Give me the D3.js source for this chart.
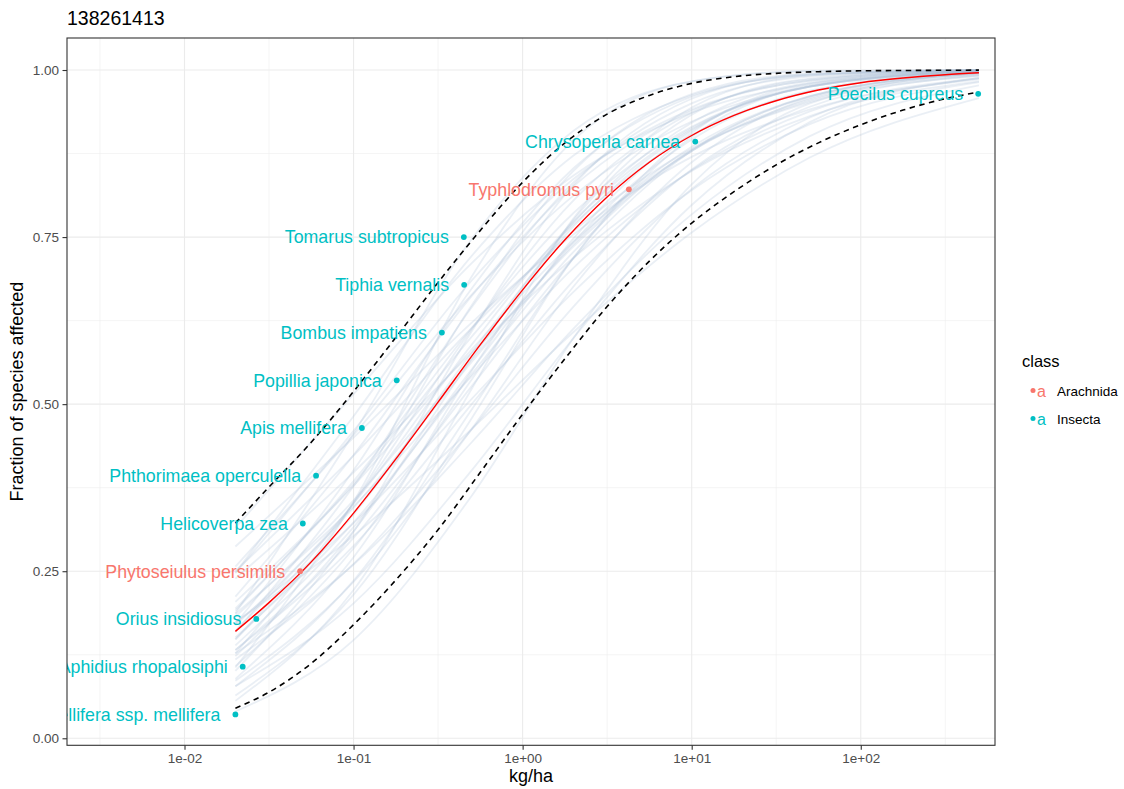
<!DOCTYPE html>
<html>
<head>
<meta charset="utf-8">
<script src="https://cdn.jsdelivr.net/npm/d3@7"></script>
<style>
  body { margin: 0; background: #fff; }
  text { font-family: "Liberation Sans", Arial, sans-serif; }
</style>
</head>
<body>
<div id="chart"></div>
<script>
// --- data ---
const chartTitle = '138261413';

// fitted curve + pointwise CI, sampled at these doses (kg/ha)
const fitDoses = [0.02, 0.0316, 0.0562, 0.1, 0.178, 0.316, 0.562, 1, 1.78, 3.16, 5.62, 10, 17.8, 31.6, 56.2, 100, 178, 316, 500];
const fitValues = [0.160, 0.203, 0.264, 0.337, 0.418, 0.503, 0.589, 0.671, 0.746, 0.810, 0.862, 0.902, 0.932, 0.954, 0.970, 0.981, 0.988, 0.993, 0.9958];
const upperValues = [0.322, 0.376, 0.443, 0.519, 0.600, 0.682, 0.760, 0.832, 0.891, 0.934, 0.962, 0.980, 0.990, 0.995, 0.9975, 0.9988, 0.9993, 0.9996, 0.9998];
const lowerValues = [0.045, 0.069, 0.112, 0.170, 0.237, 0.312, 0.398, 0.485, 0.568, 0.646, 0.714, 0.771, 0.818, 0.858, 0.891, 0.918, 0.940, 0.957, 0.967];

// bootstrap curves (faint), sampled at these doses
const bootDoses = [0.02, 0.1, 0.5, 2, 10, 50, 500];
const bootCurves = [
  [0.148, 0.335, 0.577, 0.766, 0.911, 0.975, 0.9978],
  [0.108, 0.284, 0.537, 0.748, 0.909, 0.977, 0.9984],
  [0.191, 0.385, 0.614, 0.786, 0.915, 0.975, 0.9974],
  [0.132, 0.288, 0.500, 0.685, 0.851, 0.945, 0.992],
  [0.171, 0.401, 0.673, 0.853, 0.960, 0.993, 0.9997],
  [0.101, 0.309, 0.609, 0.828, 0.957, 0.994, 0.9998],
  [0.186, 0.347, 0.542, 0.704, 0.850, 0.938, 0.988],
  [0.257, 0.454, 0.664, 0.812, 0.923, 0.975, 0.9968],
  [0.086, 0.234, 0.463, 0.676, 0.862, 0.958, 0.9958],
  [0.239, 0.398, 0.577, 0.719, 0.849, 0.931, 0.983],
  [0.248, 0.482, 0.722, 0.872, 0.962, 0.992, 0.9995],
  [0.056, 0.222, 0.523, 0.778, 0.944, 0.992, 0.9998],
  [0.127, 0.260, 0.443, 0.613, 0.784, 0.901, 0.977],
  [0.106, 0.354, 0.691, 0.895, 0.983, 0.9987, 0.99999],
  [0.169, 0.345, 0.563, 0.739, 0.885, 0.961, 0.9948],
  [0.315, 0.515, 0.711, 0.842, 0.936, 0.979, 0.9973],
  [0.078, 0.202, 0.401, 0.599, 0.798, 0.922, 0.988],
  [0.064, 0.215, 0.479, 0.719, 0.906, 0.980, 0.999],
  [0.287, 0.450, 0.622, 0.754, 0.870, 0.941, 0.986],
  [0.148, 0.352, 0.612, 0.805, 0.936, 0.986, 0.9992],
  [0.174, 0.303, 0.463, 0.608, 0.757, 0.869, 0.958],
  [0.187, 0.456, 0.747, 0.909, 0.983, 0.998, 0.99999],
  [0.139, 0.316, 0.552, 0.743, 0.896, 0.969, 0.9969],
  [0.040, 0.147, 0.363, 0.599, 0.829, 0.950, 0.996],
  [0.182, 0.356, 0.567, 0.736, 0.879, 0.956, 0.9934],
  [0.132, 0.300, 0.527, 0.718, 0.879, 0.961, 0.9955],
  [0.159, 0.377, 0.645, 0.832, 0.950, 0.990, 0.9995],
  [0.078, 0.236, 0.492, 0.719, 0.900, 0.976, 0.9986],
  [0.204, 0.378, 0.582, 0.743, 0.879, 0.954, 0.9924],
  [0.212, 0.424, 0.662, 0.826, 0.939, 0.984, 0.9988],
  [0.089, 0.271, 0.550, 0.776, 0.933, 0.987, 0.9995],
  [0.194, 0.381, 0.601, 0.769, 0.903, 0.968, 0.996],
  [0.123, 0.310, 0.568, 0.772, 0.921, 0.981, 0.9988],
  [0.173, 0.322, 0.508, 0.668, 0.820, 0.919, 0.982],
  [0.250, 0.423, 0.614, 0.759, 0.882, 0.952, 0.9908],
  [0.161, 0.351, 0.589, 0.773, 0.913, 0.975, 0.9977],
  [0.247, 0.460, 0.685, 0.837, 0.941, 0.984, 0.9986],
  [0.118, 0.261, 0.462, 0.646, 0.822, 0.929, 0.988],
  [0.127, 0.352, 0.648, 0.849, 0.964, 0.9947, 0.9999],
  [0.151, 0.323, 0.545, 0.728, 0.881, 0.960, 0.995]
];

// species points
const speciesNames = ['Apis mellifera ssp. mellifera', 'Aphidius rhopalosiphi', 'Orius insidiosus',
  'Phytoseiulus persimilis', 'Helicoverpa zea', 'Phthorimaea operculella', 'Apis mellifera',
  'Popillia japonica', 'Bombus impatiens', 'Tiphia vernalis', 'Tomarus subtropicus',
  'Typhlodromus pyri', 'Chrysoperla carnea', 'Poecilus cupreus'];
const speciesDoses = [0.020, 0.0221, 0.0266, 0.0483, 0.0501, 0.060, 0.112, 0.180, 0.333, 0.451, 0.449, 4.25, 10.5, 495];
const speciesFractions = [0.0357, 0.1071, 0.1786, 0.2500, 0.3214, 0.3929, 0.4643, 0.5357, 0.6071, 0.6786, 0.7500, 0.8214, 0.8929, 0.9643];
const speciesClasses = ['Insecta', 'Insecta', 'Insecta', 'Arachnida', 'Insecta', 'Insecta', 'Insecta',
  'Insecta', 'Insecta', 'Insecta', 'Insecta', 'Arachnida', 'Insecta', 'Insecta'];

const classNames = ['Arachnida', 'Insecta'];
const classColors = ['#F8766D', '#00BFC4'];

// axes
const xTicks = [0.01, 0.1, 1, 10, 100];
const xTickLabels = ['1e-02', '1e-01', '1e+00', '1e+01', '1e+02'];
const xMinorTicks = [0.00316, 0.0316, 0.316, 3.16, 31.6, 316];
const yTicks = [0, 0.25, 0.5, 0.75, 1];
const yTickLabels = ['0.00', '0.25', '0.50', '0.75', '1.00'];
const yMinorTicks = [0.125, 0.375, 0.625, 0.875];


class SsdPlot {

  constructor(element, width, height) {
    this.element = element;
    this.width = width;
    this.height = height;
    this.margin = {top: 38, right: 129, bottom: 43.7, left: 67};
    this.innerW = width - this.margin.left - this.margin.right;
    this.innerH = height - this.margin.top - this.margin.bottom;

    //Scale
    this.x = d3.scaleLog().domain([Math.pow(10, -2.695), Math.pow(10, 2.794)]).range([0, this.innerW]);
    this.y = d3.scaleLinear().domain([-0.0105, 1.0479]).range([this.innerH, 0]);
    this.color = d3.scaleOrdinal().domain(classNames).range(classColors);

    //Elements
    this.svg = '';
    this.g = '';

    //Binding
    this.render = this.render.bind(this);
  }

  render() {
    var _self = this;
    d3.select(_self.element).selectAll('*').remove();

    _self.svg = d3.select(_self.element).append('svg')
      .attr('width', _self.width).attr('height', _self.height)
      .style('display', 'block');

    _self.svg.append('defs').append('clipPath').attr('id', 'panel-clip')
      .append('rect').attr('width', _self.innerW).attr('height', _self.innerH);

    _self.g = _self.svg.append('g')
      .attr('transform', 'translate(' + _self.margin.left + ',' + _self.margin.top + ')');

    this.drawGrid();
    this.drawCurves();
    this.drawPoints();
    this.drawAxes();
    this.drawLegend();
  }

  drawGrid() {
    var _self = this;
    var grid = _self.g.append('g');

    grid.selectAll('.xminor').data(xMinorTicks).enter().append('line')
      .attr('x1', d => _self.x(d)).attr('x2', d => _self.x(d))
      .attr('y1', 0).attr('y2', _self.innerH)
      .attr('stroke', '#EBEBEB').attr('stroke-width', 0.55);
    grid.selectAll('.yminor').data(yMinorTicks).enter().append('line')
      .attr('x1', 0).attr('x2', _self.innerW)
      .attr('y1', d => _self.y(d)).attr('y2', d => _self.y(d))
      .attr('stroke', '#EBEBEB').attr('stroke-width', 0.55);
    grid.selectAll('.xmajor').data(xTicks).enter().append('line')
      .attr('x1', d => _self.x(d)).attr('x2', d => _self.x(d))
      .attr('y1', 0).attr('y2', _self.innerH)
      .attr('stroke', '#EBEBEB').attr('stroke-width', 1.1);
    grid.selectAll('.ymajor').data(yTicks).enter().append('line')
      .attr('x1', 0).attr('x2', _self.innerW)
      .attr('y1', d => _self.y(d)).attr('y2', d => _self.y(d))
      .attr('stroke', '#EBEBEB').attr('stroke-width', 1.1);
  }

  drawCurves() {
    var _self = this;
    var line = d3.line()
      .x(d => _self.x(d[0]))
      .y(d => _self.y(d[1]))
      .curve(d3.curveMonotoneX);

    var layer = _self.g.append('g').attr('clip-path', 'url(#panel-clip)');

    layer.selectAll('path.boot')
      .data(bootCurves.map(c => d3.zip(bootDoses, c)))
      .enter().append('path')
      .attr('class', 'boot')
      .attr('d', line)
      .attr('fill', 'none')
      .attr('stroke', '#a7bdd6')
      .attr('stroke-opacity', 0.24)
      .attr('stroke-width', 1.8);

    layer.append('path')
      .attr('d', line(d3.zip(fitDoses, upperValues)))
      .attr('fill', 'none').attr('stroke', '#000').attr('stroke-width', 1.6)
      .attr('stroke-dasharray', '5.5,4.5');
    layer.append('path')
      .attr('d', line(d3.zip(fitDoses, lowerValues)))
      .attr('fill', 'none').attr('stroke', '#000').attr('stroke-width', 1.6)
      .attr('stroke-dasharray', '5.5,4.5');
    layer.append('path')
      .attr('d', line(d3.zip(fitDoses, fitValues)))
      .attr('fill', 'none').attr('stroke', '#FF0000').attr('stroke-width', 1.4);
  }

  drawPoints() {
    var _self = this;
    var rows = speciesNames.map((n, i) => ({
      name: n, dose: speciesDoses[i], frac: speciesFractions[i], cls: speciesClasses[i]
    }));
    var layer = _self.g.append('g').attr('clip-path', 'url(#panel-clip)');

    layer.selectAll('text.lab').data(rows).enter().append('text')
      .attr('class', 'lab')
      .attr('x', d => _self.x(d.dose) - 15)
      .attr('y', d => _self.y(d.frac))
      .attr('dy', '0.36em')
      .attr('text-anchor', 'end')
      .style('font-size', '17.8px')
      .attr('fill', d => _self.color(d.cls))
      .text(d => d.name);

    layer.selectAll('circle').data(rows).enter().append('circle')
      .attr('cx', d => _self.x(d.dose))
      .attr('cy', d => _self.y(d.frac))
      .attr('r', 2.9)
      .attr('fill', d => _self.color(d.cls));
  }

  drawAxes() {
    var _self = this;

    var xAxis = _self.g.append('g')
      .attr('transform', 'translate(0,' + _self.innerH + ')')
      .call(d3.axisBottom(_self.x).tickValues(xTicks)
        .tickFormat((d, i) => xTickLabels[i]).tickSize(4.5).tickPadding(3.5).tickSizeOuter(0));
    var yAxis = _self.g.append('g')
      .call(d3.axisLeft(_self.y).tickValues(yTicks)
        .tickFormat((d, i) => yTickLabels[i]).tickSize(4.5).tickPadding(3.5).tickSizeOuter(0));

    [xAxis, yAxis].forEach(function (a) {
      a.select('.domain').remove();
      a.selectAll('.tick line').attr('stroke', '#333333').attr('stroke-width', 1.1);
      a.selectAll('.tick text').attr('fill', '#4D4D4D')
        .style('font-size', '13.5px').style('font-family', '"Liberation Sans", Arial, sans-serif');
    });

    // panel border
    _self.g.append('rect')
      .attr('width', _self.innerW).attr('height', _self.innerH)
      .attr('fill', 'none').attr('stroke', '#333333').attr('stroke-width', 1.1);

    _self.svg.append('text')
      .attr('x', _self.margin.left + _self.innerW / 2)
      .attr('y', 782)
      .attr('text-anchor', 'middle')
      .style('font-size', '18px')
      .attr('fill', '#000')
      .text('kg/ha');

    _self.svg.append('text')
      .attr('transform', 'translate(23,' + (_self.margin.top + _self.innerH / 2) + ') rotate(-90)')
      .attr('text-anchor', 'middle')
      .style('font-size', '18px')
      .attr('fill', '#000')
      .text('Fraction of species affected');

    _self.svg.append('text')
      .attr('x', 67).attr('y', 25)
      .style('font-size', '19.5px')
      .attr('fill', '#000')
      .text(chartTitle);
  }

  drawLegend() {
    var _self = this;
    var leg = _self.svg.append('g').attr('transform', 'translate(1022,0)');

    leg.append('text').attr('x', 0).attr('y', 367)
      .style('font-size', '16.5px').attr('fill', '#000').text('class');

    var items = leg.selectAll('g.item').data(classNames).enter().append('g')
      .attr('class', 'item')
      .attr('transform', (d, i) => 'translate(0,' + (391 + i * 28) + ')');

    items.append('circle').attr('cx', 11).attr('cy', -0.5).attr('r', 2.5)
      .attr('fill', d => _self.color(d));
    items.append('text').attr('x', 19.5).attr('dy', '0.36em')
      .attr('text-anchor', 'middle')
      .style('font-size', '16px')
      .attr('fill', d => _self.color(d)).text('a');
    items.append('text').attr('x', 35).attr('dy', '0.36em')
      .style('font-size', '13.5px').attr('fill', '#000').text(d => d);
  }
}

var plot = new SsdPlot(document.getElementById('chart'), 1124, 789);
plot.render();
</script>
</body>
</html>
